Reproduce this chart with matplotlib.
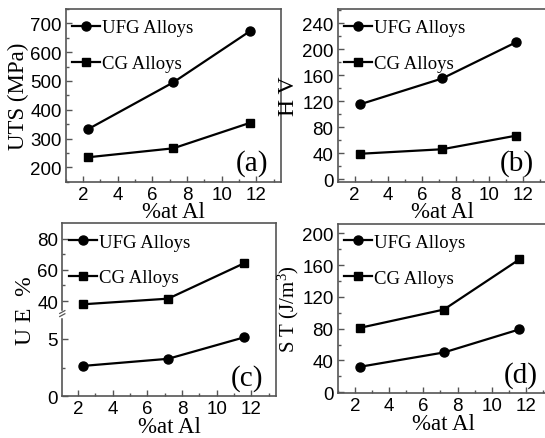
import numpy as np
import matplotlib
matplotlib.use('Agg')
import matplotlib.pyplot as plt
from matplotlib.ticker import MultipleLocator, FixedLocator

# ------------------------------------------------------------------
# Dados
# ------------------------------------------------------------------
al = [2.3, 7.2, 11.6]

uts_ufg = [333, 495, 672]
uts_cg = [235, 266, 354]

hv_ufg = [115, 155, 211]
hv_cg = [39, 46, 67]

ue_ufg = [2.65, 3.27, 5.15]
ue_cg = [37.9, 41.5, 64.3]

st_ufg = [32, 50, 79]
st_cg = [81, 104, 167]

series_labels = ['UFG Alloys', 'CG Alloys']
panel_tags = ['(a)', '(b)', '(c)', '(d)']

SERIF = 'Liberation Serif'
SANS = 'Liberation Sans'
SPINE = '#555555'

# escala quebrada do painel (c): 0-7.2 embaixo, 32-90 em cima
B1, B2 = 7.2, 32.0
S1, S2, G = 11.5, 1.565, 0.01


def fwd(y):
    y = np.asarray(y, dtype=float)
    lo = y * S1
    mid = B1 * S1 + (y - B1) * G
    hi = B1 * S1 + (B2 - B1) * G + (y - B2) * S2
    return np.where(y <= B1, lo, np.where(y < B2, mid, hi))


def inv(v):
    v = np.asarray(v, dtype=float)
    v1 = B1 * S1
    v2 = v1 + (B2 - B1) * G
    lo = v / S1
    mid = B1 + (v - v1) / G
    hi = B2 + (v - v2) / S2
    return np.where(v <= v1, lo, np.where(v < v2, mid, hi))


def style_axes(ax, xlim):
    ax.set_xlim(*xlim)
    ax.xaxis.set_major_locator(MultipleLocator(2))
    ax.xaxis.set_minor_locator(MultipleLocator(1))
    ax.tick_params(which='both', direction='in', top=False, right=False,
                   color=SPINE, width=1.0, labelsize=13.5, pad=3)
    ax.tick_params(which='major', length=4)
    ax.tick_params(which='minor', length=2.5)
    for lab in ax.get_xticklabels() + ax.get_yticklabels():
        lab.set_fontfamily(SANS)
    for sp in ax.spines.values():
        sp.set_color(SPINE)
        sp.set_linewidth(1.2)
    ax.set_xlabel('%at Al', fontfamily=SERIF, fontsize=16.5, labelpad=-1)


def draw(ax, ufg, cg, tag):
    ax.plot(al, ufg, color='black', lw=1.6, marker='o', ms=6.5, label=series_labels[0])
    ax.plot(al, cg, color='black', lw=1.6, marker='s', ms=6, label=series_labels[1])
    ax.legend(loc='upper left', bbox_to_anchor=(0.03, 0.94), frameon=False,
              borderpad=0, borderaxespad=0, handlelength=1.5, handletextpad=0.1,
              labelspacing=1.0, prop={'family': SERIF, 'size': 13.5})
    ax.text(0.94, 0.11, tag, transform=ax.transAxes, ha='right', va='center',
            fontfamily=SERIF, fontsize=21)


fig = plt.figure(figsize=(5.45, 4.39), dpi=100)

ax_a = fig.add_axes([0.1206, 0.5838, 0.3945, 0.3934])
ax_b = fig.add_axes([0.6196, 0.5838, 0.3835, 0.3934])
ax_c = fig.add_axes([0.1143, 0.0950, 0.3916, 0.3948])
ax_d = fig.add_axes([0.6196, 0.1025, 0.3897, 0.3856])

# (a) UTS
draw(ax_a, uts_ufg, uts_cg, panel_tags[0])
ax_a.set_ylim(150, 750)
ax_a.yaxis.set_major_locator(FixedLocator([200, 300, 400, 500, 600, 700]))
ax_a.yaxis.set_minor_locator(MultipleLocator(50))
style_axes(ax_a, (1, 13.4))
ax_a.set_ylabel('UTS (MPa)', fontfamily=SERIF, fontsize=16.5, labelpad=1)

# (b) HV
draw(ax_b, hv_ufg, hv_cg, panel_tags[1])
ax_b.set_ylim(-4, 262)
ax_b.yaxis.set_major_locator(FixedLocator([0, 40, 80, 120, 160, 200, 240]))
ax_b.yaxis.set_minor_locator(MultipleLocator(20))
style_axes(ax_b, (1, 13.4))
ax_b.set_ylabel('H V', fontfamily=SERIF, fontsize=17, labelpad=2)

# (c) UE com eixo quebrado
ax_c.set_yscale('function', functions=(fwd, inv))
draw(ax_c, ue_ufg, ue_cg, panel_tags[2])
ax_c.set_ylim(0, 90)
ax_c.yaxis.set_major_locator(FixedLocator([0, 5, 40, 60, 80]))
ax_c.yaxis.set_minor_locator(FixedLocator([2.5, 50, 70]))
style_axes(ax_c, (1.1, 13.4))
ax_c.set_ylabel('U E  %', fontfamily=SERIF, fontsize=17, labelpad=1)
# marca de quebra no eixo esquerdo
yb = (fwd(B1) + 0.15) / fwd(90)
ax_c.plot([0, 0], [yb - 0.012, yb + 0.012], transform=ax_c.transAxes,
          color='white', lw=2.5, clip_on=False, zorder=5)
for dy in (-0.009, 0.009):
    ax_c.plot([-0.012, 0.012], [yb + dy - 0.008, yb + dy + 0.008],
              transform=ax_c.transAxes, color=SPINE, lw=0.9, clip_on=False, zorder=6)

# (d) ST
draw(ax_d, st_ufg, st_cg, panel_tags[3])
ax_d.set_ylim(-1, 212)
ax_d.yaxis.set_major_locator(FixedLocator([0, 40, 80, 120, 160, 200]))
ax_d.yaxis.set_minor_locator(MultipleLocator(20))
style_axes(ax_d, (1, 13.4))
ax_d.set_ylabel('S T (J/m$\\mathregular{^3}$)', fontfamily=SERIF, fontsize=15, labelpad=1)

plt.savefig('out.png', dpi=100)
